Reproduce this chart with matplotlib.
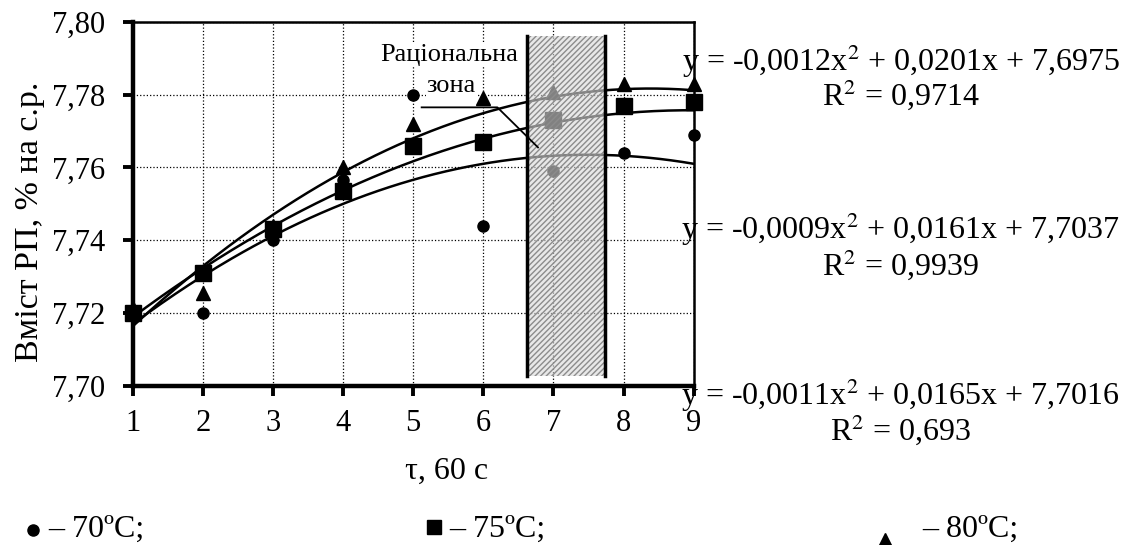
import numpy as np
import matplotlib.pyplot as plt
from matplotlib.patches import Rectangle
from matplotlib.lines import Line2D

plt.rcParams['font.family'] = ['Liberation Serif', 'DejaVu Serif']

tau = [1, 2, 3, 4, 5, 6, 7, 8, 9]
t70 = [7.720, 7.720, 7.740, 7.7566, 7.780, 7.744, 7.759, 7.764, 7.769]
t75 = [7.720, 7.731, 7.743, 7.7535, 7.766, 7.767, 7.773, 7.777, 7.778]
t80 = [7.7215, 7.7254, 7.744, 7.760, 7.772, 7.779, 7.7807, 7.783, 7.7828]

# коефіцієнти трендів (a, b, c) як на графіку
tr80 = [-0.0012, 0.0201, 7.6975]
tr75 = [-0.0009, 0.0161, 7.7037]
tr70 = [-0.0011, 0.0165, 7.7016]

fig = plt.figure(figsize=(11.26, 5.45), dpi=100)
ax = fig.add_axes([0.118, 0.292, 0.498, 0.668])

fs = 22
xs = np.linspace(1, 9, 200)
for tr in (tr70, tr75, tr80):
    ax.plot(xs, np.polyval(tr, xs), color='black', lw=1.8, zorder=3)

ax.plot(tau, t70, 'o', color='black', ms=8, zorder=4, clip_on=False)
ax.plot(tau, t75, 's', color='black', ms=11, zorder=4, clip_on=False)
ax.plot(tau, t80, '^', color='black', ms=10, zorder=4, clip_on=False)

# раціональна зона
zone = Rectangle((6.63, 7.7027), 1.11, 0.0935, facecolor=(0.85, 0.85, 0.85, 0.6),
                 hatch='//////', edgecolor=(0.55, 0.55, 0.55), lw=0, zorder=5)
ax.add_patch(zone)
ax.plot([6.63, 6.63], [7.7027, 7.7962], color='black', lw=2.5, zorder=6)
ax.plot([7.74, 7.74], [7.7027, 7.7962], color='black', lw=2.5, zorder=6)

ax.text(5.51, 7.791, 'Раціональна', fontsize=19, ha='center', va='center', zorder=7,
        bbox=dict(facecolor='white', edgecolor='none', pad=0))
ax.text(5.54, 7.7823, 'зона', fontsize=19, ha='center', va='center', zorder=7,
        bbox=dict(facecolor='white', edgecolor='none', pad=0))
ax.plot([5.12, 6.2, 6.78], [7.7765, 7.7765, 7.7655], color='black', lw=1.3, zorder=7)

ax.set_xlim(1, 9)
ax.set_ylim(7.70, 7.80)
ax.set_xticks(tau)
ax.set_yticks([7.70, 7.72, 7.74, 7.76, 7.78, 7.80])
ax.set_yticklabels(['7,70', '7,72', '7,74', '7,76', '7,78', '7,80'])
ax.tick_params(labelsize=fs, direction='out', length=7, width=2.8)
ax.tick_params(axis='y', pad=13)
ax.tick_params(axis='x', pad=10)
ax.grid(True, color='black', ls=':', lw=0.9)
for s in ax.spines.values():
    s.set_linewidth(1.8)
ax.spines['left'].set_linewidth(3.2)
ax.spines['bottom'].set_linewidth(3.2)

ax.set_xlabel('τ, 60 с', fontsize=23)
ax.xaxis.set_label_coords(0.56, -0.195)
ax.set_ylabel('Вміст РП, % на с.р.', fontsize=24.5)
ax.yaxis.set_label_coords(-0.156, 0.45)

# рівняння трендів
eqs = [('y = -0,0012x$^2$ + 0,0201x + 7,6975', 'R$^2$ = 0,9714', 0.888, 0.827),
       ('y = -0,0009x$^2$ + 0,0161x + 7,7037', 'R$^2$ = 0,9939', 0.580, 0.515),
       ('y = -0,0011x$^2$ + 0,0165x + 7,7016', 'R$^2$ = 0,693', 0.275, 0.212)]
for e, r, ye, yr in eqs:
    fig.text(0.800, ye, e, fontsize=23, ha='center', va='center', math_fontfamily='stix')
    fig.text(0.800, yr, r, fontsize=23, ha='center', va='center', math_fontfamily='stix')

# легенда
fig.add_artist(Line2D([0.029], [0.028], marker='o', color='black', ms=8, ls=''))
fig.add_artist(Line2D([0.385], [0.033], marker='s', color='black', ms=10, ls=''))
fig.add_artist(Line2D([0.786], [0.010], marker='^', color='black', ms=10, ls=''))
fig.text(0.043, 0.028, '– 70ºC;', fontsize=23, va='center')
fig.text(0.399, 0.028, '– 75ºC;', fontsize=23, va='center')
fig.text(0.819, 0.028, '– 80ºC;', fontsize=23, va='center')

fig.savefig('out.png', dpi=100)
